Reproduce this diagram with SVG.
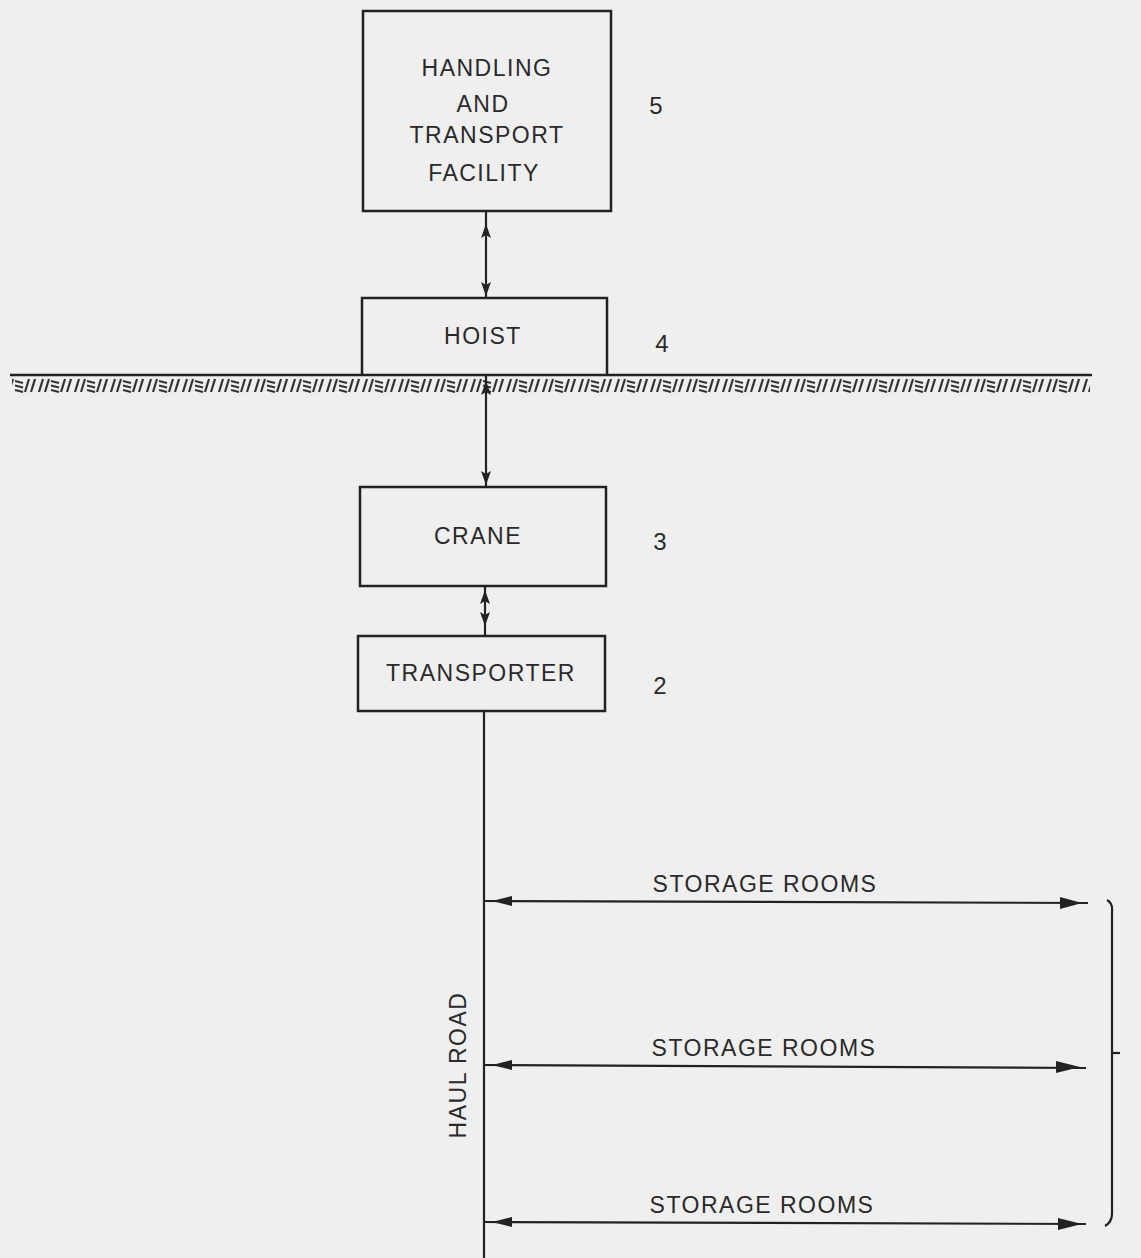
<svg xmlns="http://www.w3.org/2000/svg" width="1141" height="1258" viewBox="0 0 1141 1258">
<style>
.box{fill:none;stroke:#222;stroke-width:2.5}
.ln{stroke:#222;stroke-width:2.2;fill:none}
.t{font-family:"Liberation Sans",Arial,sans-serif;font-size:23px;fill:#2a2a2a;letter-spacing:1.5px;text-anchor:middle}
.n{font-family:"Liberation Sans",Arial,sans-serif;font-size:24px;fill:#2a2a2a;text-anchor:middle}
.ah{fill:#222}
</style>
<defs>
<path id="up" d="M0,0 L5,14 L0,11 L-5,14 Z"/>
<path id="dn" d="M0,0 L5,-14 L0,-11 L-5,-14 Z"/>
<pattern id="hatch" x="0" y="377" width="36" height="17" patternUnits="userSpaceOnUse">
<g stroke="#333" stroke-width="2.2" fill="none">
<line x1="3" y1="15" x2="7" y2="2"/>
<line x1="9" y1="15" x2="13" y2="2"/>
<line x1="15" y1="4" x2="23" y2="6"/>
<line x1="15" y1="8.5" x2="23" y2="10.5"/>
<line x1="15" y1="13" x2="23" y2="15"/>
<line x1="25" y1="15" x2="29" y2="2"/>
<line x1="31" y1="15" x2="35" y2="2"/>
</g>
</pattern>
</defs>
<rect width="1141" height="1258" fill="#efefef"/>

<g id="ground">
<line x1="10" y1="375" x2="1092" y2="375" stroke="#222" stroke-width="2.5"/>
<rect x="12" y="377" width="1078" height="17" fill="url(#hatch)"/>
</g>

<g id="node5">
<rect class="box" x="363" y="11" width="248" height="200"/>
<text class="t" x="487" y="76">HANDLING</text>
<text class="t" x="483" y="112">AND</text>
<text class="t" x="487" y="143">TRANSPORT</text>
<text class="t" x="484" y="181">FACILITY</text>
<text class="n" x="656" y="114">5</text>
</g>
<g id="node4">
<path class="box" d="M362,374 V298 H607 V374"/>
<text class="t" x="483" y="344">HOIST</text>
<text class="n" x="662" y="352">4</text>
</g>
<g id="node3">
<rect class="box" x="360" y="487" width="246" height="99"/>
<text class="t" x="478" y="544">CRANE</text>
<text class="n" x="660" y="550">3</text>
</g>
<g id="node2">
<rect class="box" x="358" y="636" width="247" height="75"/>
<text class="t" x="481" y="681">TRANSPORTER</text>
<text class="n" x="660" y="694">2</text>
</g>

<g id="connectors">
<line class="ln" x1="486" y1="211" x2="486" y2="298"/>
<use href="#up" class="ah" x="486" y="224"/>
<use href="#dn" class="ah" x="486" y="296"/>
<line class="ln" x1="486" y1="376" x2="486" y2="487"/>
<use href="#up" class="ah" x="486" y="381"/>
<use href="#dn" class="ah" x="486" y="485"/>
<line class="ln" x1="485" y1="586" x2="485" y2="636"/>
<use href="#up" class="ah" x="485" y="590"/>
<use href="#dn" class="ah" x="485" y="626"/>
<line class="ln" x1="484" y1="711" x2="484" y2="1258" stroke-width="2.6"/>
<line class="ln" x1="484" y1="901" x2="1088" y2="903"/>
<path d="M512,896 L492,901 L512,906 Z" fill="#222"/>
<path d="M1060,897 L1082,903 L1060,909 Z" fill="#222"/>
<line class="ln" x1="484" y1="1065" x2="1086" y2="1068"/>
<path d="M512,1060 L492,1065 L512,1070 Z" fill="#222"/>
<path d="M1056,1061 L1080,1067 L1056,1073 Z" fill="#222"/>
<line class="ln" x1="484" y1="1222" x2="1086" y2="1224"/>
<path d="M512,1217 L492,1222 L512,1227 Z" fill="#222"/>
<path d="M1058,1218 L1082,1224 L1058,1230 Z" fill="#222"/>
</g>

<g id="labels">
<text class="t" x="765" y="892">STORAGE ROOMS</text>
<text class="t" x="764" y="1056">STORAGE ROOMS</text>
<text class="t" x="762" y="1213">STORAGE ROOMS</text>
<text class="t" transform="translate(466,1065) rotate(-90)">HAUL ROAD</text>
</g>

<g id="bracket">
<path class="ln" d="M1107,900 Q1113,903 1112,912 V1214 Q1112,1222 1105,1226"/>
<line class="ln" x1="1112" y1="1053" x2="1120" y2="1053"/>
</g>
</svg>
